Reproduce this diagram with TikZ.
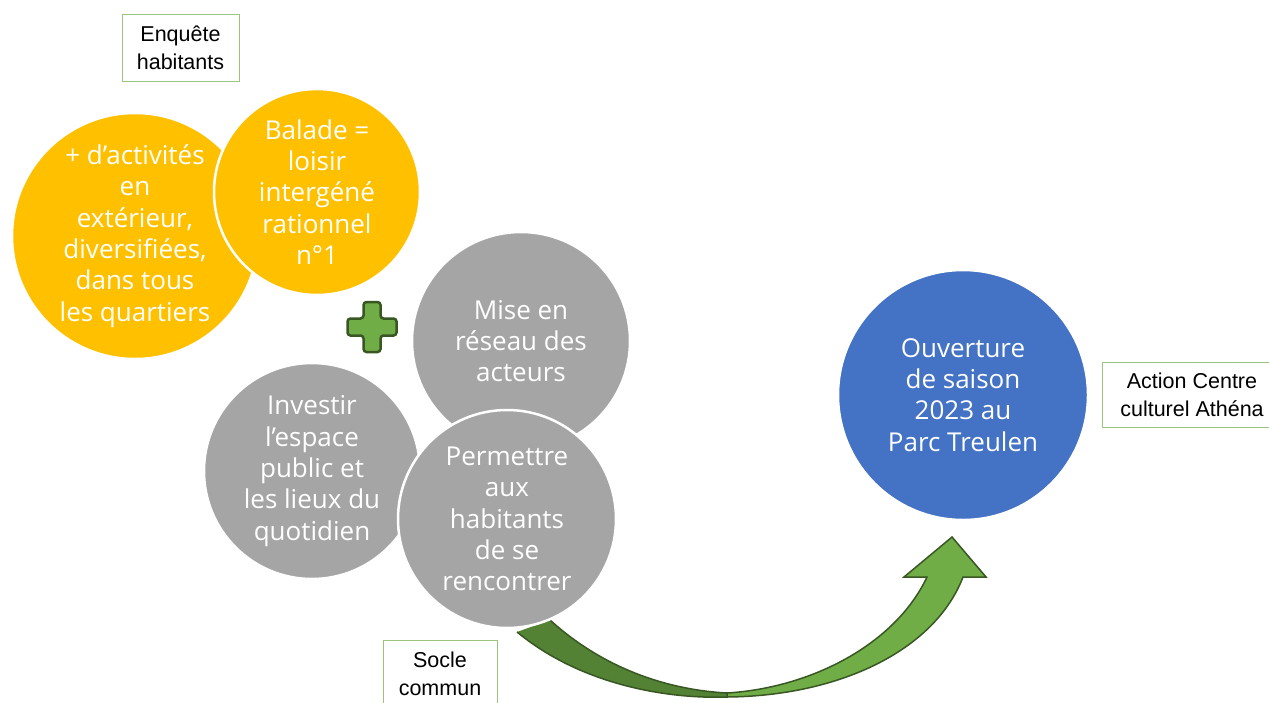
\documentclass[tikz,border=0pt]{standalone}
\usepackage{fontspec}
\setmainfont{Open Sans}
\newfontfamily\arialfont{Liberation Sans}
\definecolor{cyellow}{HTML}{FFC000}
\definecolor{cgray}{HTML}{A5A5A5}
\definecolor{cblue}{HTML}{4472C4}
\definecolor{glight}{HTML}{70AD47}
\definecolor{gdark}{HTML}{548235}
\definecolor{gline}{HTML}{385723}
\definecolor{boxline}{HTML}{9CC47E}
\begin{document}
\begin{tikzpicture}[x=1pt,y=-1pt,
  bubble/.style={circle, draw=white, line width=2.5pt, inner sep=0pt,
    text=white, align=center, font=\fontsize{26}{31.3}\selectfont},
  label box/.style={draw=boxline, line width=1pt, fill=white, align=center,
    inner sep=0pt, font=\arialfont\fontsize{21.5}{28}\selectfont, text=black}]
\useasboundingbox (0,0) rectangle (1269,702);
\clip (0,0) rectangle (1269,702);
\fill[white] (0,0) rectangle (1269,702);

% curved arrow
\coordinate (aL1) at (517,632);
\coordinate (aL2) at (550,620);
\coordinate (aB1) at (727,697);
\coordinate (aB2) at (727,693);
\coordinate (hR) at (963,577);
\coordinate (hL) at (927,577);
\coordinate (wR) at (986,577);
\coordinate (wL) at (904,577);
\coordinate (tip) at (952,537);
\fill[gdark] (aL1) .. controls (585,688) and (675,699) .. (aB1)
  -- (aB2) .. controls (670,690) and (605,670) .. (aL2) -- cycle;
\draw[gline, line width=1.5pt, line join=round] (aL2) .. controls (605,670) and (670,690) .. (aB2);
\draw[gline, line width=1.5pt, line join=round] (aL1) .. controls (585,688) and (675,699) .. (aB1);
\filldraw[fill=glight, draw=gline, line width=1.5pt, line join=miter]
  (aB1) .. controls (840,696) and (935,650) .. (hR) -- (wR) -- (tip) -- (wL) -- (hL)
  .. controls (895,645) and (810,688) .. (aB2) -- cycle;

% yellow circles
\node[bubble, fill=cyellow, minimum size=246pt] (y1) at (135,236)
  {+ d’activités\\en\\extérieur,\\diversifiées,\\dans tous\\les quartiers};
\node[bubble, fill=cyellow, minimum size=206pt] (y2) at (317,192)
  {Balade =\\loisir\\intergéné\\rationnel\\n°1};

% gray circles
\node[bubble, fill=cgray, minimum size=218pt] (g1) at (521,341)
  {Mise en\\réseau des\\acteurs};
\node[bubble, fill=cgray, minimum size=216pt] (g2) at (312,471)
  {Investir\\l’espace\\public et\\les lieux du\\quotidien};
\node[bubble, fill=cgray, minimum size=218pt] (g3) at (507,519)
  {Permettre\\aux\\habitants\\de se\\rencontrer};

% blue circle
\node[bubble, fill=cblue, minimum size=250pt] (b1) at (963,395)
  {Ouverture\\de saison\\2023 au\\Parc Treulen};

% plus sign
\coordinate (plus) at (372,327);
\filldraw[fill=glight, draw=gline, line width=2.5pt, rounded corners=3pt]
  ([xshift=-8.5pt,yshift=-25pt]plus) -- ([xshift=8.5pt,yshift=-25pt]plus)
  -- ([xshift=8.5pt,yshift=-8.5pt]plus) -- ([xshift=24.5pt,yshift=-8.5pt]plus)
  -- ([xshift=24.5pt,yshift=8.5pt]plus) -- ([xshift=8.5pt,yshift=8.5pt]plus)
  -- ([xshift=8.5pt,yshift=25pt]plus) -- ([xshift=-8.5pt,yshift=25pt]plus)
  -- ([xshift=-8.5pt,yshift=8.5pt]plus) -- ([xshift=-24.5pt,yshift=8.5pt]plus)
  -- ([xshift=-24.5pt,yshift=-8.5pt]plus) -- ([xshift=-8.5pt,yshift=-8.5pt]plus)
  -- cycle;

% label boxes
\node[label box, minimum width=117pt, minimum height=67pt] (enq) at (180.5,47.5)
  {Enquête\\habitants};
\node[label box, minimum width=180pt, minimum height=65pt] (act) at (1192,394.5)
  {Action Centre\\culturel Athéna};
\node[label box, minimum width=114pt, minimum height=80pt, anchor=north] (socle) at (440,640)
  {};
\node[font=\arialfont\fontsize{21.5}{28}\selectfont, align=center, anchor=north, inner sep=0pt]
  (socletext) at (440,652) {Socle\\commun};
\end{tikzpicture}
\end{document}
